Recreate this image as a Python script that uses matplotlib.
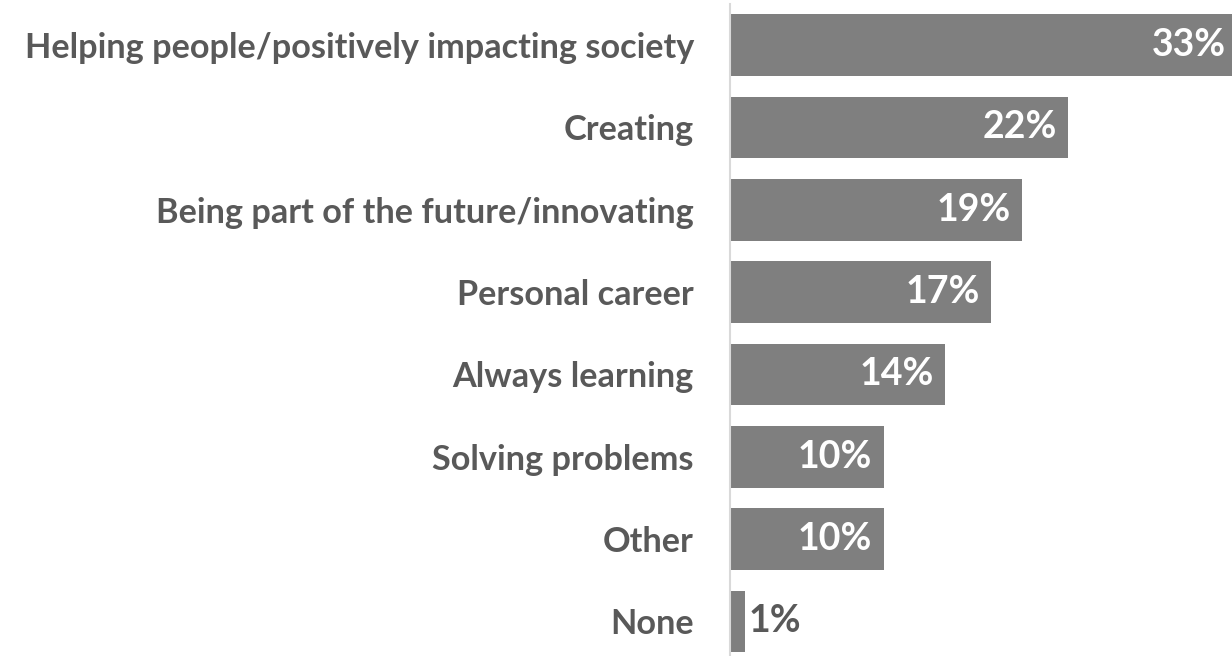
import numpy as np
import matplotlib.pyplot as plt

categories = [
    'Helping people/positively impacting society',
    'Creating',
    'Being part of the future/innovating',
    'Personal career',
    'Always learning',
    'Solving problems',
    'Other',
    'None',
]
values = [33, 22, 19, 17, 14, 10, 10, 1]

bar_color = '#7f7f7f'
text_color = '#595959'

plt.rcParams['font.family'] = ['Lato', 'DejaVu Sans']

fig = plt.figure(figsize=(12.32, 6.56), dpi=100)
ax = fig.add_axes([730 / 1232, 0, 1 - 730 / 1232, 652 / 656])

y = np.arange(len(categories))
ax.barh(y, values, height=0.75, color=bar_color)

ax.set_xlim(0, 502 / 15.35)
ax.set_ylim(7.42, -0.5)

ax.set_yticks(y)
ax.set_yticklabels(categories, fontsize=24.7, fontweight='bold', color=text_color)
ax.tick_params(axis='y', length=0, pad=26)
ax.set_xticks([])

for s in ['top', 'right', 'bottom']:
    ax.spines[s].set_visible(False)
ax.spines['left'].set_color('#d9d9d9')
ax.spines['left'].set_linewidth(1.5)

for yi, v in zip(y, values):
    lbl = f'{v}%'
    if v >= 5:
        ax.annotate(lbl, (v, yi), xytext=(-8, 0), textcoords='offset points',
                    ha='right', va='center', color='white', fontsize=27,
                    fontweight='bold', annotation_clip=False)
    else:
        ax.annotate(lbl, (v, yi), xytext=(2, 0), textcoords='offset points',
                    ha='left', va='center', color=text_color, fontsize=27,
                    fontweight='bold')

fig.savefig('out.png', dpi=100)
